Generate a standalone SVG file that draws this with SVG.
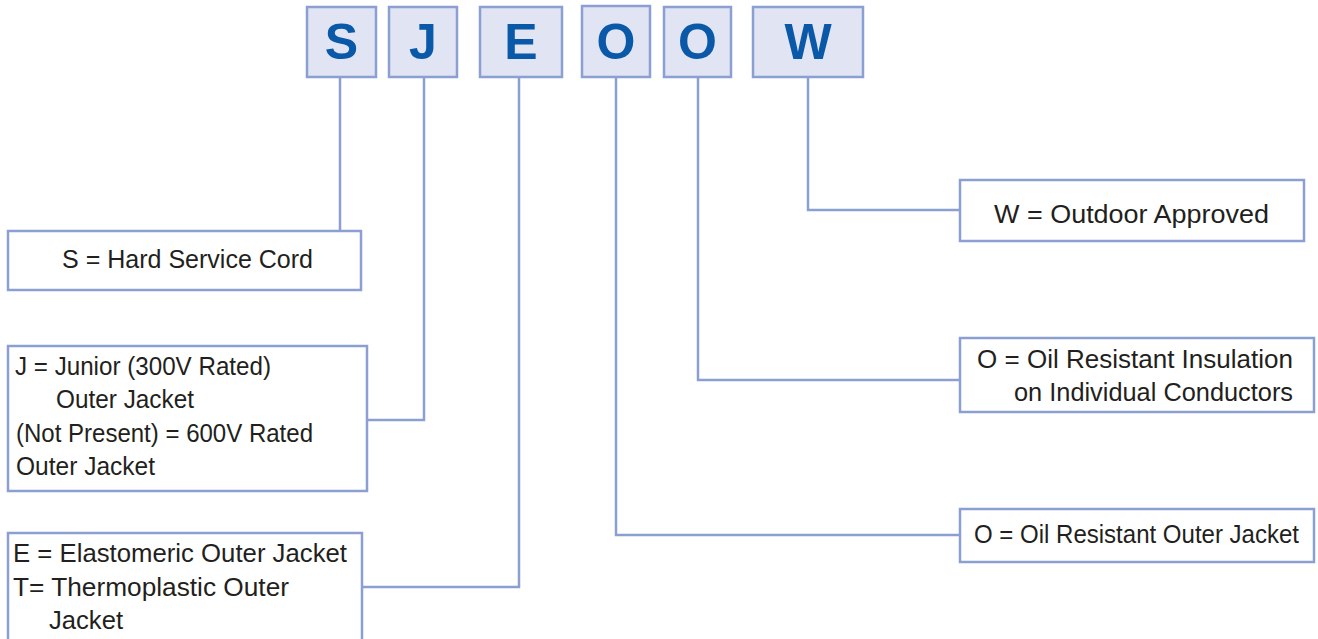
<svg xmlns="http://www.w3.org/2000/svg" width="1318" height="639" viewBox="0 0 1318 639">
<style>
.lb{fill:#e0e4f3;stroke:#8c9fd3;stroke-width:2.5}
.bx{fill:#ffffff;stroke:#8c9fd3;stroke-width:2.5}
.ln{fill:none;stroke:#8c9fd3;stroke-width:2.5}
.L{font-family:"Liberation Sans",Arial,sans-serif;font-weight:bold;font-size:50px;fill:#0a58a8;text-anchor:middle}
.t{font-family:"Liberation Sans",Arial,sans-serif;font-size:25px;fill:#231f20}
</style>
<rect width="1318" height="639" fill="#ffffff"/>
<g id="connectors">
<path class="ln" d="M340 77V231"/>
<path class="ln" d="M424 77V420H367"/>
<path class="ln" d="M519 77V587H362"/>
<path class="ln" d="M616 77V535H960"/>
<path class="ln" d="M698 77V380H960"/>
<path class="ln" d="M808 77V210H960"/>
</g>
<g id="letter-S"><rect class="lb" x="307" y="7" width="69" height="70"/><text class="L" x="341.5" y="59">S</text></g>
<g id="letter-J"><rect class="lb" x="389" y="7" width="68" height="70"/><text class="L" x="423" y="59">J</text></g>
<g id="letter-E"><rect class="lb" x="480" y="7" width="82" height="70"/><text class="L" x="521" y="59">E</text></g>
<g id="letter-O1"><rect class="lb" x="582" y="6" width="68" height="71"/><text class="L" x="616" y="59">O</text></g>
<g id="letter-O2"><rect class="lb" x="664" y="7" width="67" height="70"/><text class="L" x="697.5" y="59">O</text></g>
<g id="letter-W"><rect class="lb" x="753" y="7" width="110" height="70"/><text class="L" x="808" y="59">W</text></g>
<g id="desc-S"><rect class="bx" x="8" y="231" width="353" height="59"/><text class="t" x="62" y="268" textLength="251" lengthAdjust="spacingAndGlyphs">S = Hard Service Cord</text></g>
<g id="desc-J"><rect class="bx" x="8" y="346" width="359" height="145"/>
<text class="t" x="15" y="375" textLength="256" lengthAdjust="spacingAndGlyphs">J = Junior (300V Rated)</text>
<text class="t" x="56" y="408" textLength="138" lengthAdjust="spacingAndGlyphs">Outer Jacket</text>
<text class="t" x="16" y="442" textLength="297" lengthAdjust="spacingAndGlyphs">(Not Present) = 600V Rated</text>
<text class="t" x="16" y="475" textLength="139" lengthAdjust="spacingAndGlyphs">Outer Jacket</text></g>
<g id="desc-E"><rect class="bx" x="8" y="533" width="354" height="110"/>
<text class="t" x="13" y="562" textLength="334" lengthAdjust="spacingAndGlyphs">E = Elastomeric Outer Jacket</text>
<text class="t" x="13" y="596" textLength="276" lengthAdjust="spacingAndGlyphs">T= Thermoplastic Outer</text>
<text class="t" x="49" y="629" textLength="74" lengthAdjust="spacingAndGlyphs">Jacket</text></g>
<g id="desc-W"><rect class="bx" x="960" y="180" width="344" height="61"/><text class="t" x="994" y="223" textLength="275" lengthAdjust="spacingAndGlyphs">W = Outdoor Approved</text></g>
<g id="desc-O2"><rect class="bx" x="960" y="338" width="354" height="74"/>
<text class="t" x="977" y="368" textLength="316" lengthAdjust="spacingAndGlyphs">O = Oil Resistant Insulation</text>
<text class="t" x="1014" y="401" textLength="279" lengthAdjust="spacingAndGlyphs">on Individual Conductors</text></g>
<g id="desc-O1"><rect class="bx" x="960" y="509" width="354" height="53"/><text class="t" x="974" y="543" textLength="325" lengthAdjust="spacingAndGlyphs">O = Oil Resistant Outer Jacket</text></g>
</svg>
